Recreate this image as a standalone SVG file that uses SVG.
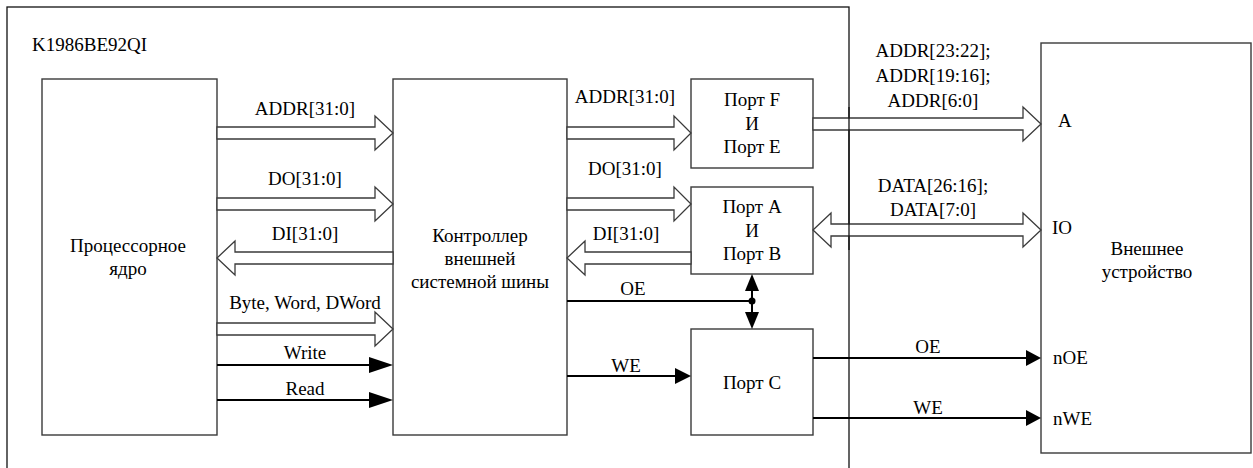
<svg xmlns="http://www.w3.org/2000/svg" width="1253" height="468" viewBox="0 0 1253 468">
<style>
text{font-family:"Liberation Serif","Times New Roman",serif;font-size:19px;fill:#000}
.c{text-anchor:middle}
.box{fill:#fff;stroke:#3a3a3a;stroke-width:1.4}
.bus{fill:#fff;stroke:#3a3a3a;stroke-width:1.3;stroke-linejoin:miter}
.sig{stroke:#000;stroke-width:2;fill:none}
.head{fill:#000}
</style>
<rect x="7" y="7" width="842" height="470" fill="#fff" stroke="#111" stroke-width="1.3"/>
<text x="32" y="51">K1986BE92QI</text>
<g id="cpu">
<rect class="box" x="42" y="79" width="175" height="356"/>
<text class="c" x="128" y="252">Процессорное</text>
<text class="c" x="128" y="275">ядро</text>
</g>
<g id="ctrl">
<rect class="box" x="393" y="79" width="174" height="356"/>
<text class="c" x="480" y="242">Контроллер</text>
<text class="c" x="480" y="265">внешней</text>
<text class="c" x="480" y="288">системной шины</text>
</g>
<g id="portFE">
<rect class="box" x="691" y="79" width="122" height="89"/>
<text class="c" x="752" y="106">Порт F</text>
<text class="c" x="752" y="130">И</text>
<text class="c" x="752" y="153">Порт E</text>
</g>
<g id="portAB">
<rect class="box" x="691" y="187" width="122" height="87"/>
<text class="c" x="752" y="213">Порт A</text>
<text class="c" x="752" y="237">И</text>
<text class="c" x="752" y="260">Порт B</text>
</g>
<g id="portC">
<rect class="box" x="691" y="329" width="122" height="106"/>
<text class="c" x="752" y="389">Порт C</text>
</g>
<g id="ext">
<rect class="box" x="1041" y="43" width="210" height="410"/>
<text class="c" x="1147" y="255">Внешнее</text>
<text class="c" x="1147" y="278">устройство</text>
<text x="1058" y="127">A</text>
<text x="1052" y="234">IO</text>
<text x="1053" y="364">nOE</text>
<text x="1053" y="425">nWE</text>
</g>
<g id="connectors">
<polygon class="bus" points="217,127 375,127 375,116 393,133 375,150 375,139 217,139"/>
<polygon class="bus" points="217,198 375,198 375,187 393,204 375,221 375,210 217,210"/>
<polygon class="bus" points="393,252 235,252 235,241 217,258 235,275 235,264 393,264"/>
<polygon class="bus" points="217,323 375,323 375,312 393,329 375,346 375,335 217,335"/>
<line class="sig" x1="217" y1="365" x2="372" y2="365"/>
<polygon class="head" points="369,357 393,365 369,373"/>
<line class="sig" x1="217" y1="400" x2="372" y2="400"/>
<polygon class="head" points="369,392 393,400 369,408"/>
<polygon class="bus" points="567,127 674,127 674,116 691,133 674,150 674,139 567,139"/>
<polygon class="bus" points="567,198 674,198 674,187 691,204 674,221 674,210 567,210"/>
<polygon class="bus" points="691,252 585,252 585,241 567,258 585,275 585,264 691,264"/>
<line class="sig" x1="567" y1="301" x2="752" y2="301"/>
<circle cx="752" cy="301" r="3.5" fill="#000"/>
<line class="sig" x1="752" y1="288" x2="752" y2="315"/>
<polygon class="head" points="752,274 759,291 745,291"/>
<polygon class="head" points="752,329 759,312 745,312"/>
<line class="sig" x1="567" y1="376" x2="678" y2="376"/>
<polygon class="head" points="675,368 691,376 675,384"/>
<polygon class="bus" points="813,118 1023,118 1023,107 1041,124 1023,141 1023,130 813,130"/>
<polygon class="bus" points="831,224 1023,224 1023,213 1041,230 1023,247 1023,236 831,236 831,247 813,230 831,213"/>
<line x1="849" y1="107" x2="849" y2="250" stroke="#111" stroke-width="1.3"/>
<line class="sig" x1="813" y1="358" x2="1029" y2="358"/>
<polygon class="head" points="1026,350 1041,358 1026,366"/>
<line class="sig" x1="813" y1="418" x2="1029" y2="418"/>
<polygon class="head" points="1026,410 1041,418 1026,426"/>
</g>
<g id="labels">
<text class="c" x="305" y="115">ADDR[31:0]</text>
<text class="c" x="305" y="185">DO[31:0]</text>
<text class="c" x="305" y="240">DI[31:0]</text>
<text class="c" x="305" y="309">Byte, Word, DWord</text>
<text class="c" x="305" y="359">Write</text>
<text class="c" x="305" y="395">Read</text>
<text class="c" x="625" y="103">ADDR[31:0]</text>
<text class="c" x="625" y="175">DO[31:0]</text>
<text class="c" x="626" y="240">DI[31:0]</text>
<text class="c" x="633" y="295">OE</text>
<text class="c" x="626" y="372">WE</text>
<text class="c" x="933" y="57">ADDR[23:22];</text>
<text class="c" x="933" y="82">ADDR[19:16];</text>
<text class="c" x="933" y="107">ADDR[6:0]</text>
<text class="c" x="933" y="192">DATA[26:16];</text>
<text class="c" x="933" y="216">DATA[7:0]</text>
<text class="c" x="928" y="353">OE</text>
<text class="c" x="928" y="414">WE</text>
</g>
</svg>
